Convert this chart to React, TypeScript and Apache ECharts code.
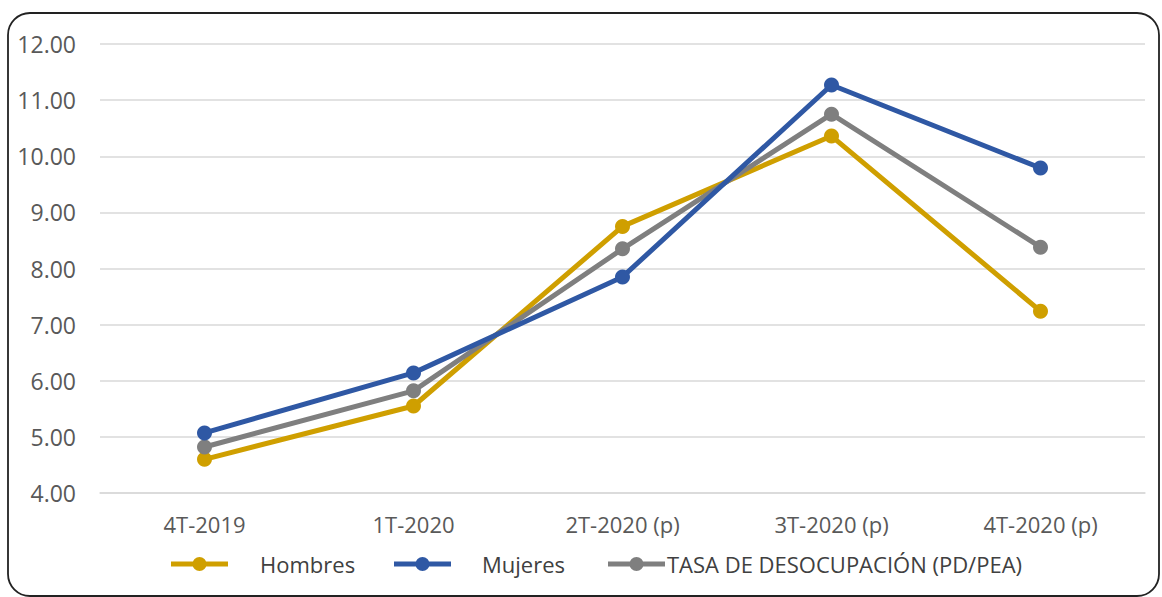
import React, { useEffect, useRef } from "react";
import * as echarts from "echarts";

const categories = ["4T-2019", "1T-2020", "2T-2020 (p)", "3T-2020 (p)", "4T-2020 (p)"];
const hombres = [4.6, 5.55, 8.75, 10.36, 7.24];
const mujeres = [5.07, 6.14, 7.85, 11.27, 9.79];
const tasa = [4.82, 5.82, 8.35, 10.75, 8.38];
const seriesNames = ["Hombres", "Mujeres", "TASA DE DESOCUPACIÓN (PD/PEA)"];
const colors = ["#CF9F00", "#2F58A4", "#7F7F7F"];

export default function App() {
  const ref = useRef<HTMLDivElement>(null);
  useEffect(() => {
    const chart = echarts.init(ref.current!, null, { renderer: "svg" });
    const font = "'Open Sans', 'Liberation Sans', sans-serif";
    const icon =
      "path://M0,5 L23,5 L23,10 L0,10 Z M34,5 L57,5 L57,10 L34,10 Z M21.5,7.5 A7,7 0 1 1 35.5,7.5 A7,7 0 1 1 21.5,7.5 Z";
    const legendBase = {
      top: 553,
      padding: 0,
      itemWidth: 57,
      itemHeight: 15,
      icon,
    };
    const txt = (pad: number) => ({
      color: "#404040",
      fontSize: 22,
      fontFamily: font,
      lineHeight: 22,
      padding: [0, 0, 0, pad],
    });
    const datas = [hombres, mujeres, tasa];
    chart.setOption({
      animation: false,
      color: colors,
      graphic: [
        {
          type: "rect",
          shape: { x: 8, y: 13, width: 1151, height: 583, r: 22 },
          style: { fill: "none", stroke: "#222", lineWidth: 1.8 },
          z: -1,
        },
      ],
      legend: [
        { ...legendBase, left: 171, data: [seriesNames[0]], textStyle: txt(27) },
        { ...legendBase, left: 394, data: [seriesNames[1]], textStyle: txt(26) },
        { ...legendBase, left: 608, data: [seriesNames[2]], textStyle: txt(-3) },
      ],
      grid: { left: 100, right: 17, top: 44, bottom: 104 },
      xAxis: {
        type: "category",
        data: categories,
        boundaryGap: true,
        axisLine: { show: true, lineStyle: { color: "#D9D9D9", width: 1.5 } },
        axisTick: { show: false },
        axisLabel: { color: "#595959", fontSize: 22, fontFamily: font, margin: 20 },
      },
      yAxis: {
        type: "value",
        min: 4,
        max: 12,
        interval: 1,
        axisLine: { show: false },
        axisTick: { show: false },
        splitLine: { lineStyle: { color: "#D9D9D9", width: 1.5 } },
        axisLabel: {
          color: "#595959",
          fontSize: 23,
          fontFamily: font,
          margin: 24,
          formatter: (v: number) => v.toFixed(2),
        },
      },
      series: seriesNames.map((name, i) => ({
        name,
        type: "line",
        data: datas[i],
        symbol: "circle",
        symbolSize: 15,
        lineStyle: { width: 5, color: colors[i] },
        itemStyle: { color: colors[i] },
        z: i === 1 ? 4 : i === 2 ? 3 : 2,
      })),
    });
    return () => chart.dispose();
  }, []);
  return (
    <div
      ref={ref}
      style={{ position: "fixed", left: 0, top: 0, width: 1162, height: 597, background: "#fff" }}
    />
  );
}
